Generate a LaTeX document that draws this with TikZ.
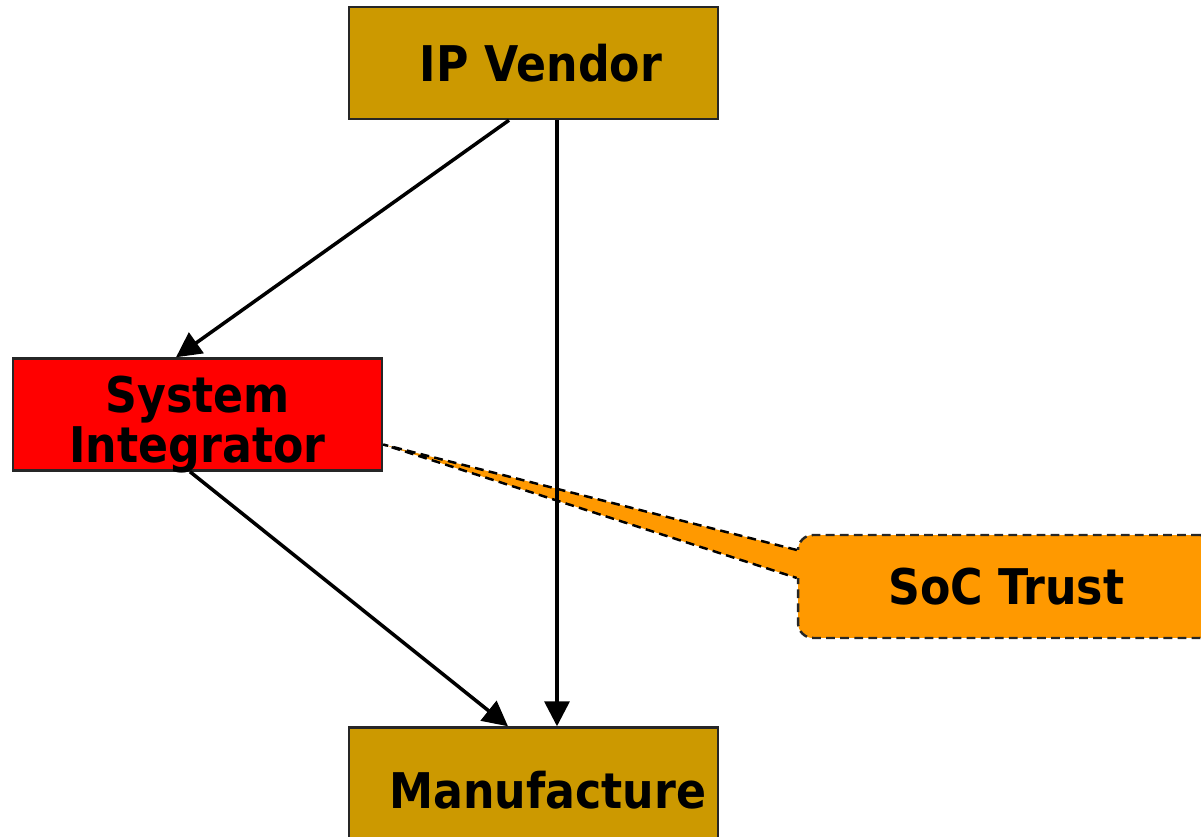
\documentclass[tikz,border=0pt]{standalone}
\usepackage{fontspec}
\setmainfont{DejaVu Sans Condensed}
\usetikzlibrary{arrows.meta}
\definecolor{vendorGold}{HTML}{CC9900}
\definecolor{socOrange}{HTML}{FF9900}
\tikzset{%
    >={Triangle[width=0.5cm,length=0.5cm]},
    base/.style = {
        rectangle, draw=black!85, line width=1.4pt, minimum width=7.38cm,
        minimum height=2.24cm, text centered,
        font=\bfseries\fontsize{28}{29}\selectfont
    },
    party/.style = {base, fill=vendorGold, inner xsep=0pt, align=right},
    integrator/.style = {
        base, fill=red, align=center, inner ysep=0pt,
        text height=1.94cm, text depth=0pt
    },
    trustBox/.style = {
        base, rounded corners=0.3cm, fill=socOrange, trustDash,
        minimum width=8.34cm, minimum height=2.06cm
    },
    trustDash/.style = {dash pattern=on 5pt off 3pt, line width=1.4pt},
    flow/.style = {->, line width=2pt},
}

\begin{document}
\begin{tikzpicture}[x=0.02cm, y=-0.02cm]
        \useasboundingbox (0,0) rectangle (1201,837);
        % Nodes position
        \node (vendor)      [party, text width=5.14cm] at (533.5,63)
                                {IP Vendor};
        \node (integ)       [integrator] at (197.5,414.5)
                                {System\\Integrator};
        \node (manufacture) [party, text width=6.9cm, minimum height=2.5cm]
                                at (533.5,790) {Manufacture};
        \node (trust)       [trustBox] at (1006.5,586.5) {SoC Trust};

        % Callout tail of the trust box
        \coordinate (tip)   at ([yshift=-0.6cm]integ.east);
        \coordinate (tailA) at ([yshift=0.73cm]trust.west);
        \coordinate (tailB) at ([yshift=0.17cm]trust.west);
        \fill[socOrange] (tip) -- (tailA) -- ([xshift=3pt]tailA)
            -- ([xshift=3pt]tailB) -- (tailB) -- cycle;
        \draw[trustDash] (tailA) -- (tip) -- (tailB);

        % Arrow specification
        \draw[flow] ([xshift=-0.49cm]vendor.south)
            -- ([xshift=-0.43cm]integ.north);
        \draw[flow] ([xshift=0.47cm]vendor.south)
            -- ([xshift=0.47cm]manufacture.north);
        \draw[flow] ([xshift=-0.15cm]integ.south)
            -- ([xshift=-0.51cm]manufacture.north);
    \end{tikzpicture}
\end{document}
